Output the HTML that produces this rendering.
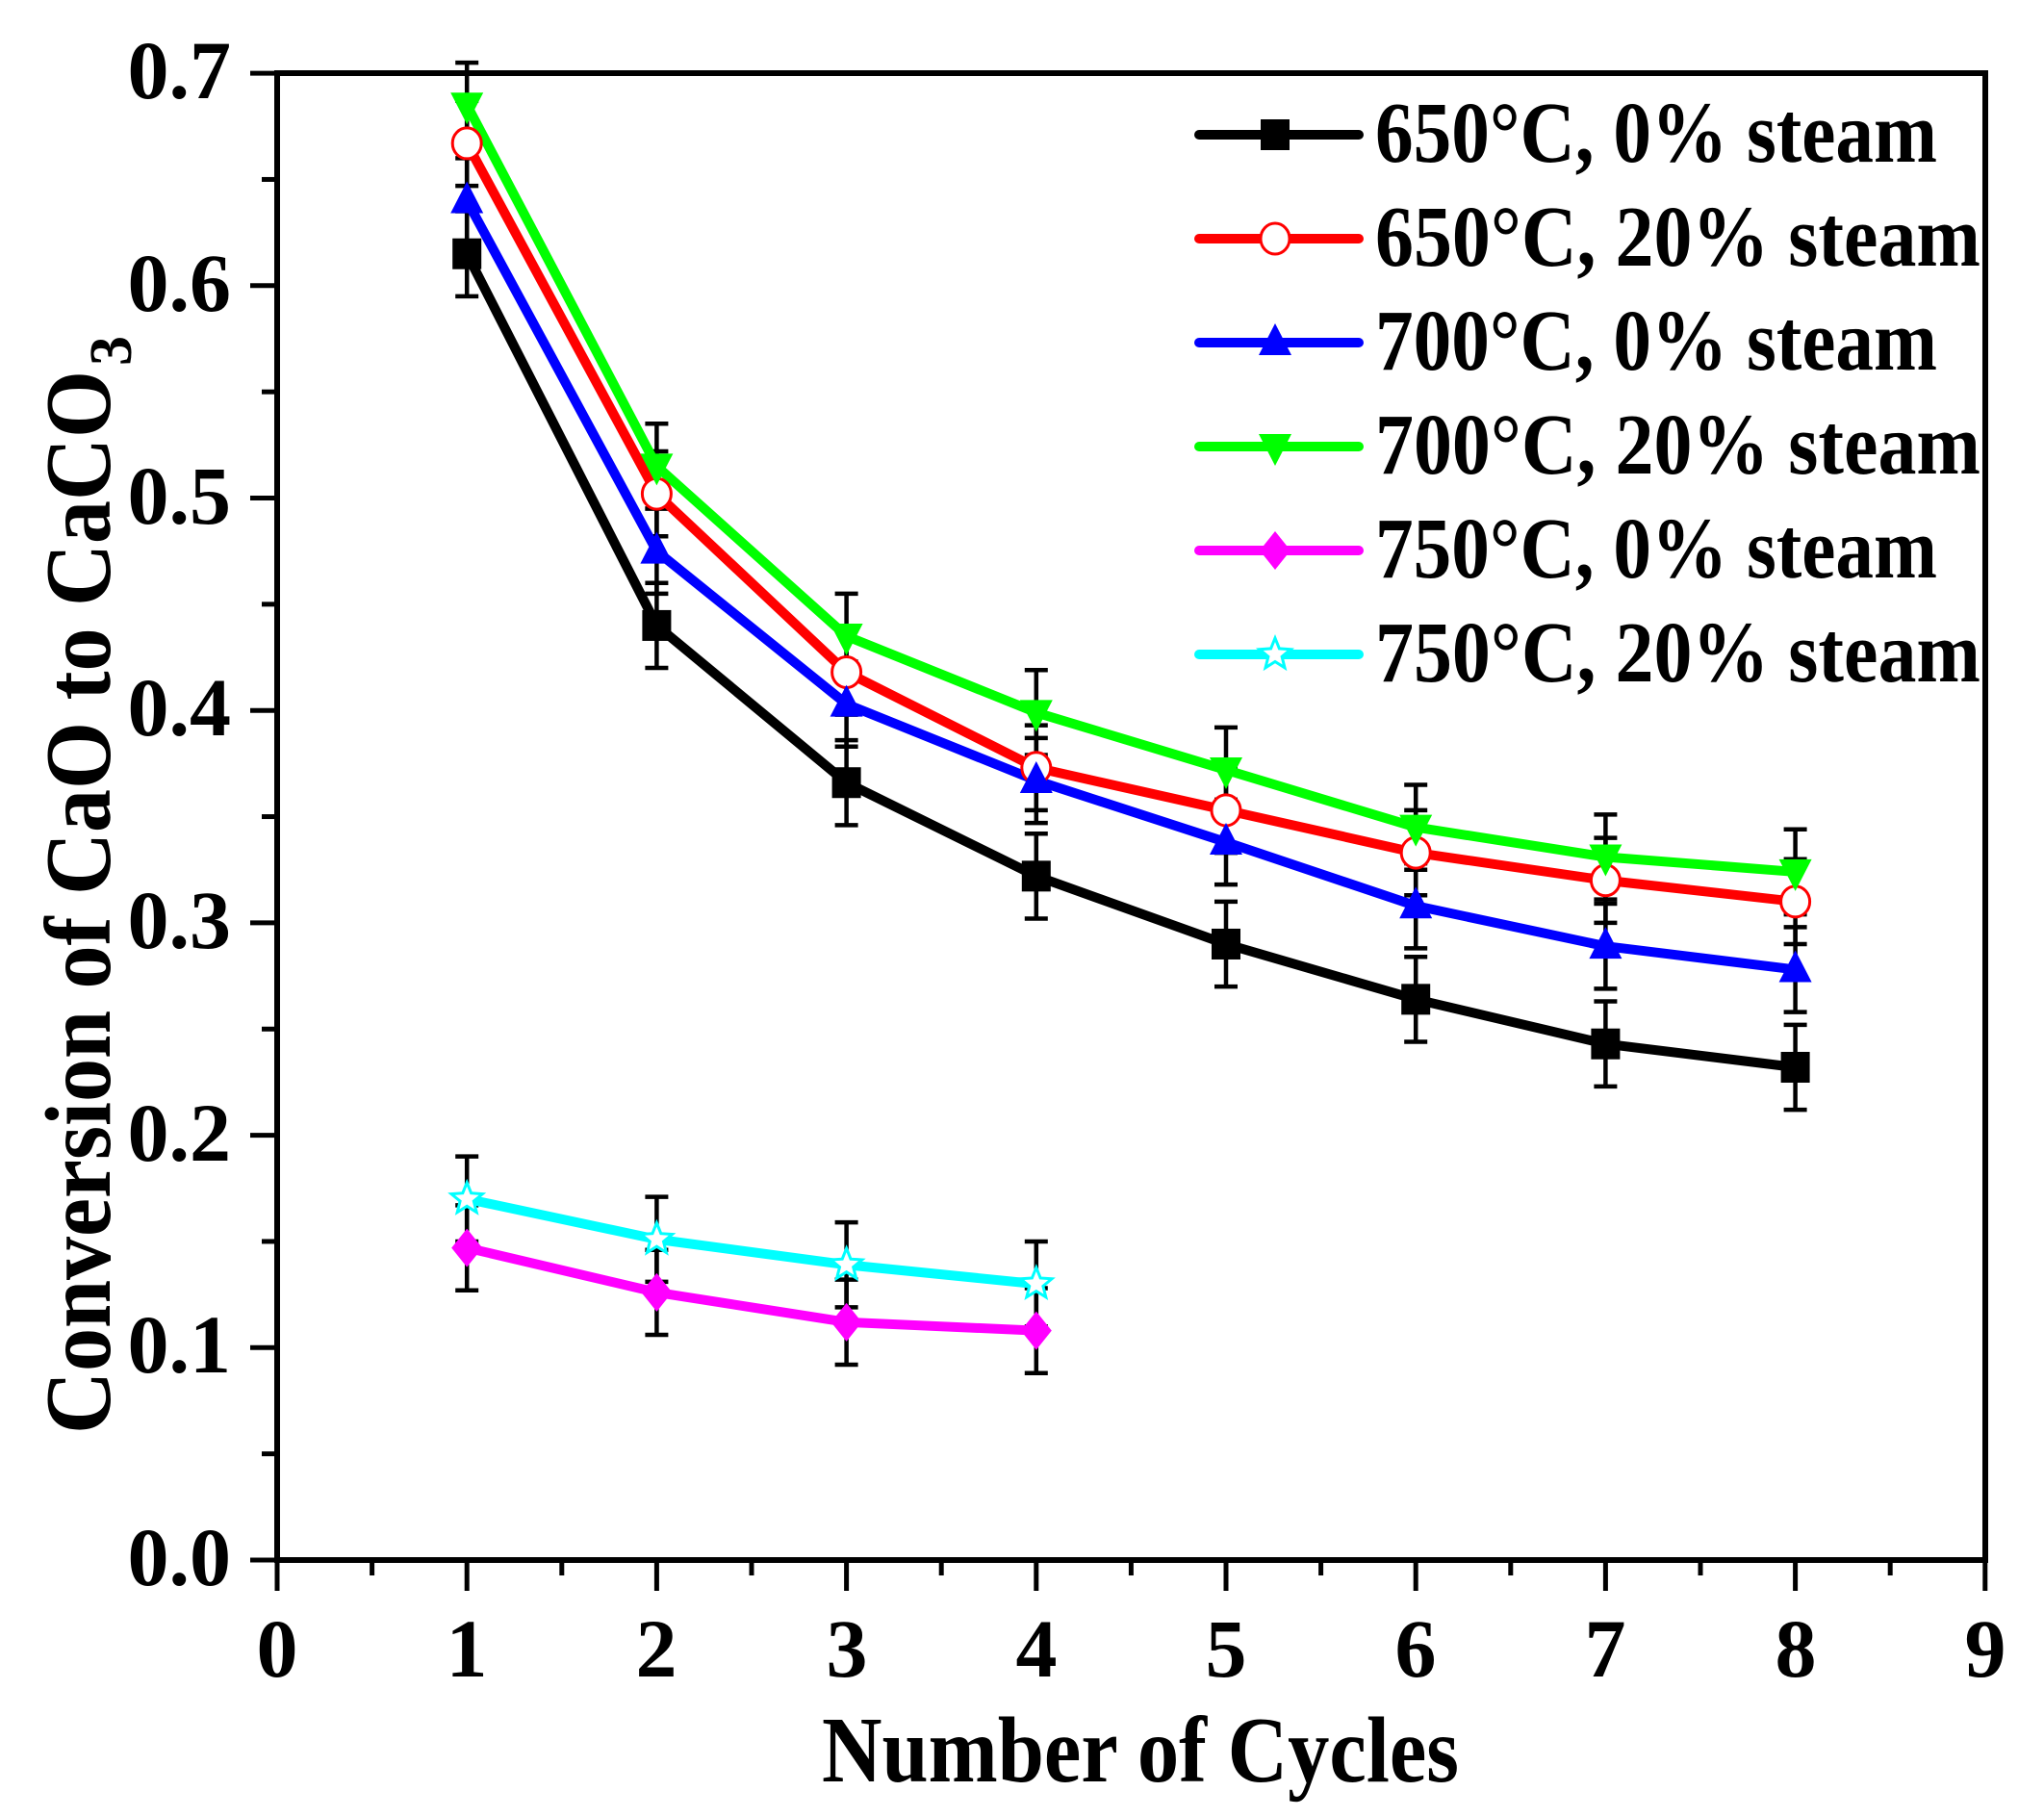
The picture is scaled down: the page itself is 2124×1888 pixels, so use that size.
<!DOCTYPE html>
<html><head><meta charset="utf-8"><style>html,body{margin:0;padding:0;background:#fff}svg{display:block}</style></head>
<body>
<svg id="s" width="2124" height="1888" viewBox="0 0 2124 1888" xmlns="http://www.w3.org/2000/svg" font-family="'Liberation Serif', serif" font-weight="bold">
<rect width="2124" height="1888" fill="#fff"/>
<g id="axes" stroke="#000" stroke-width="6" fill="none">
<rect x="288" y="76" width="1775" height="1545"/>
</g>
<g id="ticks" stroke="#000" stroke-width="5"></g>
<g id="data"></g>
<g font-size="86" fill="#000">
<text x="240" y="1647" text-anchor="end">0.0</text>
<text x="240" y="1426" text-anchor="end">0.1</text>
<text x="240" y="1206" text-anchor="end">0.2</text>
<text x="240" y="985" text-anchor="end">0.3</text>
<text x="240" y="764" text-anchor="end">0.4</text>
<text x="240" y="544" text-anchor="end">0.5</text>
<text x="240" y="323" text-anchor="end">0.6</text>
<text x="240" y="102" text-anchor="end">0.7</text>
<text x="288" y="1742" text-anchor="middle">0</text>
<text x="485" y="1742" text-anchor="middle">1</text>
<text x="682" y="1742" text-anchor="middle">2</text>
<text x="880" y="1742" text-anchor="middle">3</text>
<text x="1077" y="1742" text-anchor="middle">4</text>
<text x="1274" y="1742" text-anchor="middle">5</text>
<text x="1471" y="1742" text-anchor="middle">6</text>
<text x="1668" y="1742" text-anchor="middle">7</text>
<text x="1866" y="1742" text-anchor="middle">8</text>
<text x="2063" y="1742" text-anchor="middle">9</text>
</g>
<text x="854" y="1851" font-size="97" textLength="662" lengthAdjust="spacingAndGlyphs">Number of Cycles</text>
<g transform="translate(114,1490) rotate(-90)">
<text x="0" y="0" font-size="98" textLength="1105" lengthAdjust="spacingAndGlyphs">Conversion of CaO to CaCO</text>
<text x="1110" y="22" font-size="62">3</text>
</g>
<g id="legend" font-size="90"></g>
</svg>
<script>
const NS="http://www.w3.org/2000/svg";
const X=i=>288+197.2*i, Y=v=>1621-2207*v;
function el(p,t,a){const e=document.createElementNS(NS,t);for(const k in a)e.setAttribute(k,a[k]);p.appendChild(e);return e;}
const tk=document.getElementById('ticks');
for(let k=0;k<=14;k++){const y=Y(k*0.05);const L=k%2?16:28;el(tk,'line',{x1:288-L,x2:288,y1:y,y2:y});}
for(let k=0;k<=18;k++){const x=X(k*0.5);const L=k%2?16:32;el(tk,'line',{x1:x,x2:x,y1:1621,y2:1621+L});}
const S=[
 {c:'#000',m:'sq',v:[0.615,0.44,0.366,0.322,0.29,0.264,0.243,0.232],l:'650°C, 0% steam',w:584},
 {c:'#f00',m:'ci',v:[0.667,0.502,0.418,0.373,0.353,0.333,0.32,0.31],l:'650°C, 20% steam',w:629},
 {c:'#00f',m:'tu',v:[0.64,0.475,0.403,0.367,0.338,0.308,0.289,0.278],l:'700°C, 0% steam',w:584},
 {c:'#0f0',m:'td',v:[0.685,0.515,0.435,0.399,0.372,0.345,0.331,0.324],l:'700°C, 20% steam',w:629},
 {c:'#f0f',m:'di',v:[0.147,0.126,0.112,0.108],l:'750°C, 0% steam',w:584},
 {c:'#0ff',m:'st',v:[0.17,0.151,0.139,0.13],l:'750°C, 20% steam',w:629}
];
function marker(g,m,x,y,c){
 if(m==='sq')el(g,'rect',{x:x-15,y:y-16,width:30,height:32,fill:c});
 else if(m==='ci')el(g,'ellipse',{cx:x,cy:y,rx:15,ry:16,fill:'#fff',stroke:c,'stroke-width':3});
 else if(m==='tu')el(g,'polygon',{points:`${x},${y-20} ${x+17},${y+13} ${x-17},${y+13}`,fill:c});
 else if(m==='td')el(g,'polygon',{points:`${x},${y+20} ${x+17},${y-13} ${x-17},${y-13}`,fill:c});
 else if(m==='di')el(g,'polygon',{points:`${x},${y-20} ${x+16},${y} ${x},${y+20} ${x-16},${y}`,fill:c});
 else if(m==='st'){let p=[];for(let i=0;i<10;i++){const r=i%2?7.5:17,a=-Math.PI/2+i*Math.PI/5;p.push((x+r*Math.cos(a)).toFixed(1)+','+(y+r*Math.sin(a)).toFixed(1));}
  el(g,'polygon',{points:p.join(' '),fill:'#fff',stroke:c,'stroke-width':3});}
}
const d=document.getElementById('data');
const eg=el(d,'g',{});const lg=el(d,'g',{});const mg=el(d,'g',{});
S.forEach(s=>{
 const pts=s.v.map((v,i)=>[X(i+1),Y(v)]);
 el(lg,'polyline',{points:pts.map(p=>p.join(',')).join(' '),fill:'none',stroke:s.c,'stroke-width':10,'stroke-linejoin':'round'});
 pts.forEach(p=>{const e=0.02*2207;
  el(eg,'path',{d:`M${p[0]},${p[1]-e}V${p[1]+e}M${p[0]-12},${p[1]-e}H${p[0]+12}M${p[0]-12},${p[1]+e}H${p[0]+12}`,stroke:'#000','stroke-width':4.5,fill:'none'});
 });
 pts.forEach(p=>marker(mg,s.m,p[0],p[1],s.c));
});
const L=document.getElementById('legend');
S.forEach((s,i)=>{const yb=168+108*i, yl=yb-28;
 el(L,'line',{x1:1246,x2:1412,y1:yl,y2:yl,stroke:s.c,'stroke-width':10,'stroke-linecap':'round'});
 marker(L,s.m,1325,yl,s.c);
 const t=el(L,'text',{x:1429,y:yb,textLength:s.w,lengthAdjust:'spacingAndGlyphs',fill:'#000'});t.textContent=s.l;
});
</script>
</body></html>
